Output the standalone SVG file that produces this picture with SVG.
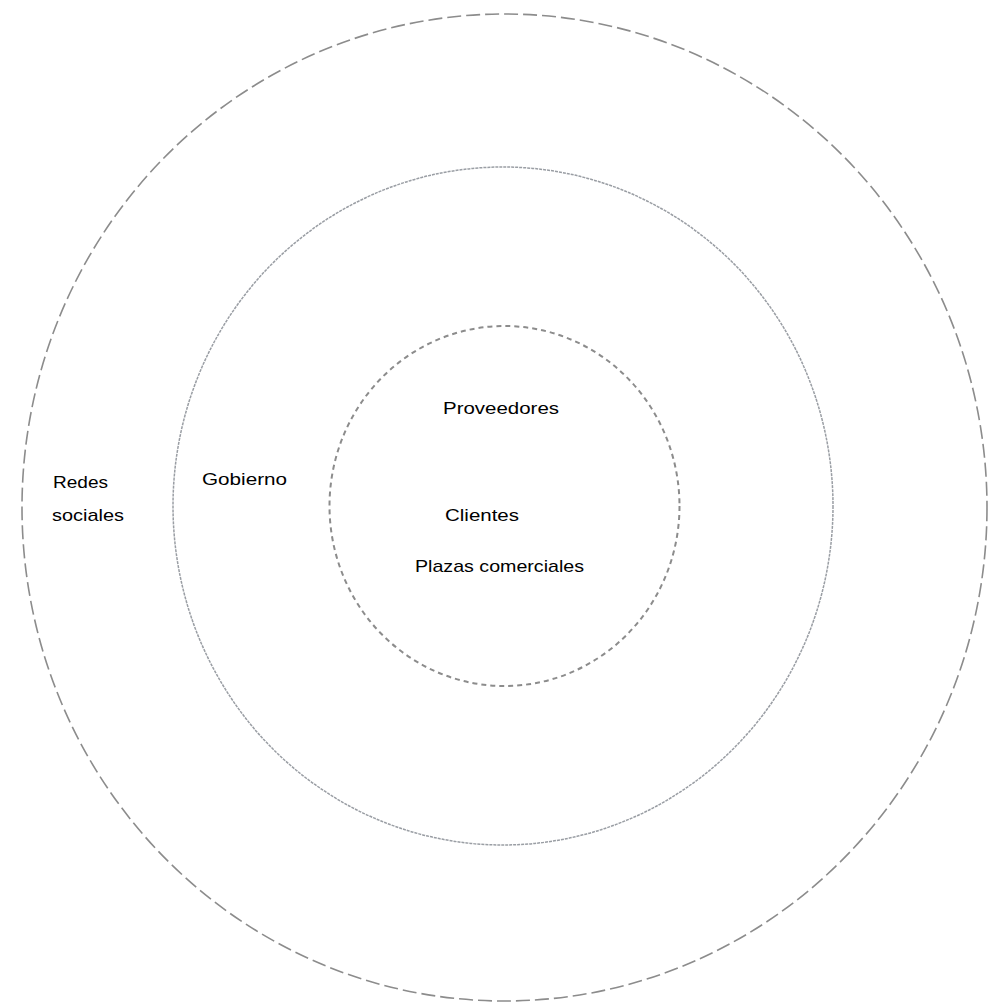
<svg xmlns="http://www.w3.org/2000/svg" width="993" height="1007" viewBox="0 0 993 1007">
<style>
.ring{fill:none;stroke:#8c8c8c}
.outer{stroke-width:1.6;stroke-dasharray:14 5}
.middle{stroke-width:1.5;stroke-dasharray:3 1;stroke:#9a9ea4}
.inner{stroke-width:2;stroke-dasharray:5 4}
.lbl{font-family:"Liberation Sans",Arial,sans-serif;font-size:17px;fill:#000}
</style>
<rect width="993" height="1007" fill="#fff"/>
<g id="connectors"></g>
<g id="ring-outer"><ellipse class="ring outer" cx="504.5" cy="507.5" rx="482.5" ry="493.5"/></g>
<g id="ring-middle"><ellipse class="ring middle" cx="503" cy="506" rx="330" ry="339"/></g>
<g id="ring-inner"><ellipse class="ring inner" cx="504.5" cy="506" rx="175" ry="180"/></g>
<g id="node-redes">
<text class="lbl" x="53" y="488" textLength="55" lengthAdjust="spacingAndGlyphs">Redes</text>
<text class="lbl" x="52" y="521" textLength="72" lengthAdjust="spacingAndGlyphs">sociales</text>
</g>
<g id="node-gobierno"><text class="lbl" x="202" y="485" textLength="85" lengthAdjust="spacingAndGlyphs">Gobierno</text></g>
<g id="node-proveedores"><text class="lbl" x="443" y="414" textLength="116" lengthAdjust="spacingAndGlyphs">Proveedores</text></g>
<g id="node-clientes"><text class="lbl" x="445" y="521" textLength="74" lengthAdjust="spacingAndGlyphs">Clientes</text></g>
<g id="node-plazas"><text class="lbl" x="415" y="572" textLength="169" lengthAdjust="spacingAndGlyphs">Plazas comerciales</text></g>
</svg>
